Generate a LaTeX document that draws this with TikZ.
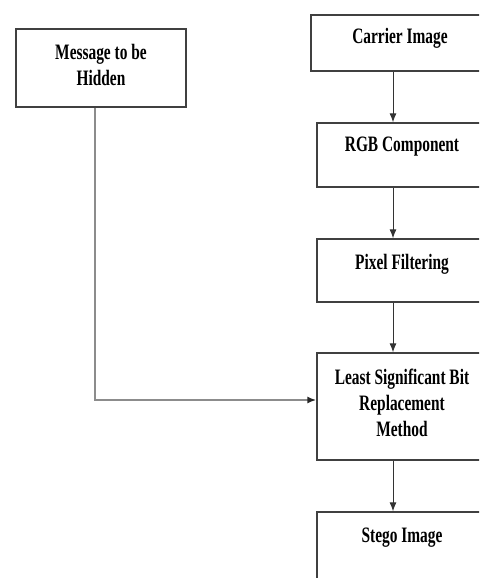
\documentclass[tikz,border=0pt]{standalone}
\usepackage{fontspec}
\newfontfamily\caixafont[FakeStretch=0.7]{Liberation Serif}
\usetikzlibrary{arrows.meta,positioning}

\tikzset{
  caixa/.style={draw=black!75,line width=1.3pt,rectangle,minimum width=170pt,inner sep=0pt},
  rotulo/.style={inner sep=0pt,align=center,font=\caixafont\bfseries\fontsize{22}{26}\selectfont},
  seta/.style={->,black!80,line width=1pt}
}

\begin{document}
\begin{tikzpicture}[>={Latex[length=9pt,width=7pt]},x=1pt,y=-1pt]
	% moldura
	\useasboundingbox (0,0) rectangle (479,578);
	\clip (0,0) rectangle (479,578);
	% caixas
	\node[caixa,minimum height=78pt] (msg) at (101,68) {};
	\node[caixa,minimum width=178pt,minimum height=56pt] (carrier) at (400,43) {};
	\node[caixa,minimum height=64pt] (rgb) at (402,155) {};
	\node[caixa,minimum height=63pt] (pix) at (402,270.5) {};
	\node[caixa,minimum height=107pt] (lsb) at (402,406.5) {};
	\node[caixa,minimum height=88pt] (stego) at (402,556) {};
	% textos
	\node[rotulo,below=16pt of msg.north] (tmsg) {Message to be\\Hidden};
	\node[rotulo,below=14pt of carrier.north] (tcarrier) {Carrier Image};
	\node[rotulo,below=14pt of rgb.north] (trgb) {RGB Component};
	\node[rotulo,below=16pt of pix.north] (tpix) {Pixel Filtering};
	\node[rotulo,below=16pt of lsb.north] (tlsb) {Least Significant Bit\\Replacement\\Method};
	\node[rotulo,below=16pt of stego.north] (tstego) {Stego Image};
	% setas
	\coordinate (eixo) at (393,0);
	\draw[seta] (carrier.south -| eixo) -- (rgb.north -| eixo);
	\draw[seta] (rgb.south -| eixo) -- (pix.north -| eixo);
	\draw[seta] (pix.south -| eixo) -- (lsb.north -| eixo);
	\draw[seta] (lsb.south -| eixo) -- (stego.north -| eixo);
	% mensagem
	\draw[seta,black!45,line width=1.8pt,-{Latex[length=9pt,width=7pt,black!85]}] ([xshift=-6pt]msg.south) |- ([yshift=6.5pt]lsb.west);
\end{tikzpicture}
\end{document}
